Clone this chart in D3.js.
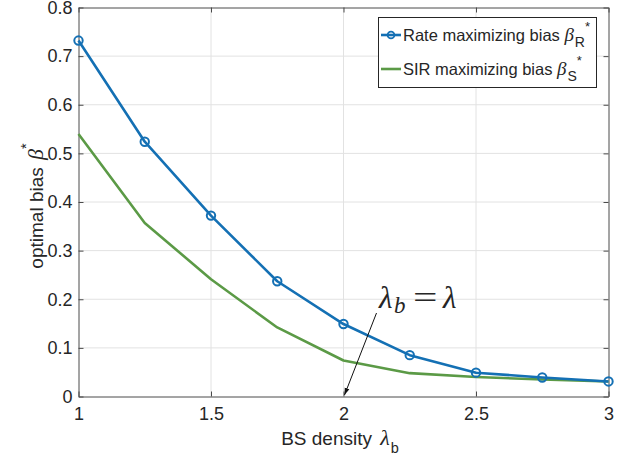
<!DOCTYPE html>
<html>
<head>
<meta charset="utf-8">
<script src="https://cdn.jsdelivr.net/npm/d3@7"></script>
<style>
  body { margin: 0; background: #fff; }
  svg { display: block; }
  text { fill: #262626; }
</style>
</head>
<body>
<svg id="chart" width="628" height="462"></svg>
<script>
// BS density values and the two optimal-bias curves
const densities = [1, 1.25, 1.5, 1.75, 2, 2.25, 2.5, 2.75, 3];
const rateBias  = [0.732, 0.524, 0.372, 0.237, 0.149, 0.085, 0.049, 0.039, 0.031];
const sirBias   = [0.540, 0.357, 0.241, 0.142, 0.074, 0.048, 0.040, 0.035, 0.031];

const xTicks = [1, 1.5, 2, 2.5, 3];
const yTicks = [0, 0.1, 0.2, 0.3, 0.4, 0.5, 0.6, 0.7, 0.8];
const xTickLabels = ["1", "1.5", "2", "2.5", "3"];
const yTickLabels = ["0", "0.1", "0.2", "0.3", "0.4", "0.5", "0.6", "0.7", "0.8"];

const markerDensity = 2;      // λ_b = λ annotation points here
const blue  = "#1470b4";
const green = "#5b9a46";
const sans  = "'Liberation Sans', Arial, Helvetica, sans-serif";
const serif = "'Liberation Serif', 'Times New Roman', serif";

const svg = d3.select("#chart");
const x = d3.scaleLinear().domain([1, 3]).range([78.5, 608.5]);
const y = d3.scaleLinear().domain([0, 0.8]).range([396.5, 7.5]);

// grid
const grid = svg.append("g").attr("stroke", "#e2e2e2").attr("stroke-width", 1);
grid.selectAll("line.v").data(xTicks.slice(1, -1)).join("line")
  .attr("x1", d => x(d)).attr("x2", d => x(d))
  .attr("y1", y(0)).attr("y2", y(0.8));
grid.selectAll("line.h").data(yTicks.slice(1, -1)).join("line")
  .attr("x1", x(1)).attr("x2", x(3))
  .attr("y1", d => y(d)).attr("y2", d => y(d));

// axes (box with inward ticks on all four sides)
function styleAxis(g) {
  g.select(".domain").attr("stroke", "#4a4a4a").attr("stroke-width", 1);
  g.selectAll(".tick line").attr("stroke", "#4a4a4a").attr("stroke-width", 1);
  g.selectAll(".tick text").attr("fill", "#262626")
    .style("font-family", sans).style("font-size", "18px");
}
svg.append("g").attr("transform", `translate(0,${y(0)})`)
  .call(d3.axisBottom(x).tickValues(xTicks).tickFormat((d, i) => xTickLabels[i])
    .tickSizeInner(-5).tickSizeOuter(0).tickPadding(11))
  .call(styleAxis);
svg.append("g").attr("transform", `translate(${x(1)},0)`)
  .call(d3.axisLeft(y).tickValues(yTicks).tickFormat((d, i) => yTickLabels[i])
    .tickSizeInner(-5).tickSizeOuter(0).tickPadding(6))
  .call(styleAxis);
svg.append("g").attr("transform", `translate(0,${y(0.8)})`)
  .call(d3.axisTop(x).tickValues(xTicks).tickFormat("")
    .tickSizeInner(-5).tickSizeOuter(0))
  .call(styleAxis);
svg.append("g").attr("transform", `translate(${x(3)},0)`)
  .call(d3.axisRight(y).tickValues(yTicks).tickFormat("")
    .tickSizeInner(-5).tickSizeOuter(0))
  .call(styleAxis);

// curves
const line = d3.line().x((d, i) => x(densities[i])).y(d => y(d));
svg.append("path").datum(sirBias).attr("d", line)
  .attr("fill", "none").attr("stroke", green).attr("stroke-width", 2.6)
  .attr("stroke-linejoin", "round");
svg.append("path").datum(rateBias).attr("d", line)
  .attr("fill", "none").attr("stroke", blue).attr("stroke-width", 2.6)
  .attr("stroke-linejoin", "round");
svg.append("g").selectAll("circle").data(rateBias).join("circle")
  .attr("cx", (d, i) => x(densities[i])).attr("cy", d => y(d)).attr("r", 4.2)
  .attr("fill", "none").attr("stroke", blue).attr("stroke-width", 2);

// axis labels
const xl = svg.append("text").attr("x", 340).attr("y", 445).attr("text-anchor", "middle")
  .style("font-family", sans).style("font-size", "19px");
xl.append("tspan").text("BS density ");
xl.append("tspan").attr("dx", 3).style("font-family", serif).style("font-style", "italic").style("font-size", "22px").text("λ");
xl.append("tspan").attr("dx", 1).attr("dy", 8).style("font-size", "14.5px").text("b");

const yl = svg.append("text").attr("transform", "translate(43,206) rotate(-90)")
  .attr("text-anchor", "middle").style("font-family", sans).style("font-size", "19px");
yl.append("tspan").text("optimal bias ");
yl.append("tspan").attr("dx", 2).style("font-family", serif).style("font-style", "italic").style("font-size", "22px").text("β");
yl.append("tspan").attr("dy", -12).style("font-size", "14.5px").text("*");

// annotation λ_b = λ with arrow to the x axis
const defs = svg.append("defs");
defs.append("marker").attr("id", "arrowhead").attr("viewBox", "0 0 10 10")
  .attr("refX", 10).attr("refY", 5).attr("markerWidth", 7).attr("markerHeight", 7)
  .attr("orient", "auto-start-reverse")
  .append("path").attr("d", "M0,1.5 L10,5 L0,8.5 Z").attr("fill", "#111");
svg.append("line")
  .attr("x1", 376.5).attr("y1", 313)
  .attr("x2", x(markerDensity) + 1).attr("y2", y(0) - 1.5)
  .attr("stroke", "#111").attr("stroke-width", 1)
  .attr("marker-end", "url(#arrowhead)");
const ann = svg.append("text").attr("y", 308)
  .style("font-family", serif).style("font-size", "31px");
ann.append("tspan").attr("x", 379).style("font-style", "italic").text("λ");
ann.append("tspan").attr("x", 394).attr("dy", 5).style("font-style", "italic").style("font-size", "23px").text("b");
ann.append("tspan").attr("x", 443).attr("dy", -5).style("font-style", "italic").text("λ");
// wide equals sign
svg.append("text").attr("transform", "translate(413,308) scale(1.4,1)")
  .style("font-family", serif).style("font-size", "31px").text("=");

// legend
const lg = svg.append("g");
lg.append("rect").attr("x", 378.5).attr("y", 17.5).attr("width", 218).attr("height", 70)
  .attr("fill", "#fff").attr("stroke", "#262626").attr("stroke-width", 1);
const entries = [
  { color: blue,  marker: true,  label: "Rate maximizing bias ", sub: "R", cy: 35 },
  { color: green, marker: false, label: "SIR maximizing bias ",  sub: "S", cy: 69 }
];
entries.forEach(e => {
  lg.append("line").attr("x1", 381).attr("x2", 401).attr("y1", e.cy).attr("y2", e.cy)
    .attr("stroke", e.color).attr("stroke-width", 2.6);
  if (e.marker) {
    lg.append("circle").attr("cx", 391).attr("cy", e.cy).attr("r", 3.4)
      .attr("fill", "none").attr("stroke", e.color).attr("stroke-width", 1.8);
  }
  const t = lg.append("text").attr("x", 403).attr("y", e.cy + 5.5)
    .style("font-family", sans).style("font-size", "16.5px");
  t.append("tspan").text(e.label);
  t.append("tspan").style("font-family", serif).style("font-style", "italic").style("font-size", "19px").text("β");
  t.append("tspan").attr("dx", 1).attr("dy", 6).style("font-size", "14px").text(e.sub);
  t.append("tspan").attr("dy", -16).style("font-size", "13px").text("*");
});
</script>
</body>
</html>
